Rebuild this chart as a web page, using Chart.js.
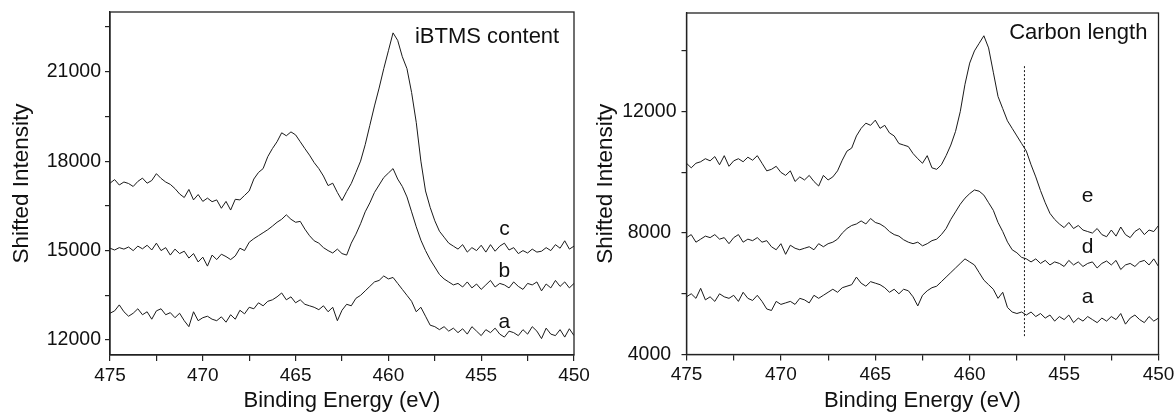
<!DOCTYPE html>
<html>
<head>
<meta charset="utf-8">
<script src="https://cdn.jsdelivr.net/npm/chart.js@4.4.1/dist/chart.umd.min.js"></script>
<style>
  html, body { margin: 0; padding: 0; background: #fff; }
  #wrap { position: relative; width: 1176px; height: 413px; overflow: hidden; }
  #leftChart { position: absolute; left: 0; top: 0; }
  #rightChart { position: absolute; left: 590px; top: 0; }
</style>
</head>
<body>
<div id="wrap">
  <canvas id="leftChart" width="590" height="413"></canvas>
  <canvas id="rightChart" width="586" height="413"></canvas>
</div>
<script>
// XPS spectra, two panels: iBTMS content (a, b, c) and carbon length (a, d, e)

const energy = [
  475, 474.75, 474.5, 474.25, 474, 473.75, 473.5, 473.25, 473, 472.75,
  472.5, 472.25, 472, 471.75, 471.5, 471.25, 471, 470.75, 470.5, 470.25,
  470, 469.75, 469.5, 469.25, 469, 468.75, 468.5, 468.25, 468, 467.75,
  467.5, 467.25, 467, 466.75, 466.5, 466.25, 466, 465.75, 465.5, 465.25,
  465, 464.75, 464.5, 464.25, 464, 463.75, 463.5, 463.25, 463, 462.75,
  462.5, 462.25, 462, 461.75, 461.5, 461.25, 461, 460.75, 460.5, 460.25,
  460, 459.75, 459.5, 459.25, 459, 458.75, 458.5, 458.25, 458, 457.75,
  457.5, 457.25, 457, 456.75, 456.5, 456.25, 456, 455.75, 455.5, 455.25,
  455, 454.75, 454.5, 454.25, 454, 453.75, 453.5, 453.25, 453, 452.75,
  452.5, 452.25, 452, 451.75, 451.5, 451.25, 451, 450.75, 450.5, 450.25,
  450
];

// tick positions (every tick gets a mark, only some get a label)
const xTicks = [475, 472.5, 470, 467.5, 465, 462.5, 460, 457.5, 455, 452.5, 450];
const xLabels = [475, 470, 465, 460, 455, 450];
const leftYTicks = [12000, 13500, 15000, 16500, 18000, 19500, 21000, 22500];
const leftYLabels = [12000, 15000, 18000, 21000];
const rightYTicks = [4000, 6000, 8000, 10000, 12000, 14000];
const rightYLabels = [4000, 8000, 12000];

// left panel
const iBTMS_c = [
  17260, 17380, 17200, 17300, 17250, 17150, 17320, 17430, 17260, 17350,
  17580, 17420, 17300, 17220, 17080, 16900, 16780, 17050, 16700, 16880,
  16650, 16760, 16640, 16700, 16420, 16650, 16360, 16720, 16700, 16850,
  17000, 17400, 17620, 17750, 18150, 18420, 18650, 18950, 18850, 18980,
  18880, 18650, 18420, 18200, 17950, 17750, 17500, 17180, 17260, 16950,
  16680, 16980, 17250, 17620, 18000, 18550, 19200, 19850, 20450, 21100,
  21700, 22300, 22050, 21500, 21100, 20300, 19300, 18000, 17000, 16450,
  16000, 15650, 15450, 15250, 15150, 15050, 15200, 14950, 15100, 15000,
  15180, 14950, 15200, 14980, 15150, 15250, 15020, 15100, 14900, 15000,
  14920, 15050, 14950, 14980, 15100, 15000, 15200, 15080, 15330, 15050,
  15150
];
const iBTMS_b = [
  15080, 15020, 15100, 15050, 15120, 15000, 15150, 15060, 15180, 15020,
  15250, 15000, 15100, 14850, 15050, 14900, 14980, 14750, 14900, 14620,
  14780, 14480, 14850, 14700, 14880, 14800, 14700, 14820, 15080, 15000,
  15280, 15400, 15500, 15600, 15700, 15820, 15950, 16050, 16200, 16050,
  15950, 15980, 15720, 15500, 15330, 15250, 15100, 15000, 14920, 15050,
  14900, 14850, 15250, 15550, 15900, 16300, 16600, 16950, 17200, 17450,
  17600, 17750, 17400, 17150, 16800, 16300, 15800, 15350, 15000, 14700,
  14450, 14200, 14050, 13950, 13850, 13900, 13780, 13950, 13750, 13880,
  13700, 13850, 14000, 13780, 13900, 13850, 13750, 13950, 13800, 13700,
  13900, 13850, 13950, 13650, 13880, 13750, 14000, 13800, 13950, 13750,
  13900
];
const iBTMS_a = [
  12900, 12980, 13180, 12950, 12800, 12900, 13050, 12850, 12950, 12700,
  12980, 13050, 12850, 12920, 12750, 12900, 12650, 12450, 12950, 12650,
  12750, 12800, 12700, 12650, 12780, 12600, 12850, 12700, 13000, 12880,
  13100, 13050, 13250, 13150, 13300, 13350, 13450, 13580, 13350, 13450,
  13250, 13350, 13200, 13150, 13100, 13020, 13150, 12950, 13100, 12650,
  13000, 13200, 13150, 13400, 13500, 13650, 13800, 13950, 14000, 14150,
  14050, 14100, 13900, 13700, 13500, 13300, 12950, 13100, 12800, 12500,
  12450, 12350, 12450, 12300, 12400, 12250, 12380, 12200, 12450, 12300,
  12150, 12350, 12250, 12400, 12200, 12100, 12300, 12250, 12150, 12350,
  12200, 12450, 12300, 12050, 12400, 12200, 12150, 12350, 12100, 12380,
  12150
];

// right panel
const carbon_e = [
  10300, 10150, 10300, 10350, 10450, 10380, 10520, 10250, 10550, 10200,
  10380, 10450, 10350, 10500, 10400, 10550, 10300, 10050, 10100, 10200,
  10000, 9900, 10050, 9700, 9850, 9750, 9900, 9700, 9550, 9900,
  9750, 9850, 10050, 10400, 10700, 10800, 11200, 11450, 11620, 11550,
  11720, 11450, 11550, 11300, 11200, 10950, 10900, 10850, 10620, 10450,
  10300, 10550, 10150, 10100, 10250, 10550, 10900, 11350, 12000, 12900,
  13600, 14000, 14250, 14500, 14100, 13300, 12500, 12100, 11700, 11450,
  11200, 10950, 10700, 10250, 9850, 9400, 9000, 8650, 8450, 8300,
  8180, 8350, 8150, 8250, 8100, 8050, 8000, 8150, 7950, 7880,
  8100, 7900, 8200, 7950, 7850, 8050, 8150, 7950, 8100, 8050,
  8250
];
const carbon_d = [
  7850, 7950, 7700, 7800, 7900, 7850, 7950, 7800, 7850, 7650,
  7850, 7950, 7700, 7800, 7750, 7850, 7700, 7750, 7550, 7450,
  7650, 7300, 7600, 7500, 7450, 7500, 7550, 7450, 7650, 7550,
  7650, 7700, 7800, 8000, 8150, 8250, 8300, 8400, 8300, 8480,
  8350, 8300, 8200, 8050, 7950, 7900, 7780, 7700, 7650, 7700,
  7580, 7650, 7750, 7800, 7950, 8150, 8450, 8700, 8950, 9150,
  9300, 9420, 9380, 9250, 9000, 8750, 8350, 8050, 7700, 7450,
  7350, 7200, 7150, 7050, 7150, 7000, 7100, 6950, 7050, 7000,
  6900, 7100, 6950, 7050, 6900, 7000, 7050, 6850, 7000, 7080,
  6950, 7100, 6800, 6950, 7000, 6900, 7050, 7100, 6950, 7150,
  6900
];
const carbon_a = [
  5900, 6000, 5850, 6180, 5800, 5900, 5750, 6000, 5900, 5850,
  5950, 5750, 6050, 5850, 5780, 5950, 5750, 5500, 5450, 5750,
  5650, 5700, 5750, 5650, 5850, 5800, 5700, 5950, 5850, 5950,
  6050, 6150, 6050, 6200, 6250, 6300, 6550, 6350, 6250, 6400,
  6350, 6300, 6200, 6050, 6150, 6000, 6150, 6100, 5900, 5600,
  5950, 6100, 6200, 6250, 6400, 6550, 6700, 6850, 7000, 7150,
  7050, 6950, 6700, 6450, 6300, 6150, 5850, 6050, 5550, 5400,
  5350, 5400, 5300, 5400, 5250, 5350, 5200, 5300, 5100, 5250,
  5150, 5300, 5050, 5200, 5100, 5250, 5150, 5050, 5200, 5100,
  5250, 5150, 5350, 5000, 5200, 5300, 5150, 5050, 5250, 5100,
  5200
];

// dotted reference line in the right panel
const markerEnergy = [457.1, 457.1];
const markerLevel = [13500, 4600];

const FONT = "'Liberation Sans', Arial, sans-serif";
const INK = '#1a1a1a';

Chart.defaults.font.family = FONT;
Chart.defaults.color = '#111';

function toPoints(xs, ys) {
  return ys.map((y, i) => ({ x: xs[i], y: y }));
}

function spectrum(values) {
  return {
    data: toPoints(energy, values),
    borderColor: INK,
    borderWidth: 1,
    pointRadius: 0,
    tension: 0,
    fill: false
  };
}

// frame around the plot area + curve labels placed through the scales
const panelDecor = {
  id: 'panelDecor',
  afterDatasetsDraw(chart, args, opts) {
    const { ctx, chartArea: a, scales } = chart;
    ctx.save();
    ctx.strokeStyle = '#222';
    ctx.lineWidth = 1.3;
    ctx.strokeRect(a.left, a.top, a.right - a.left, a.bottom - a.top);
    (opts.labels || []).forEach(l => {
      ctx.font = l.size + 'px ' + FONT;
      ctx.fillStyle = '#111';
      ctx.textAlign = l.align || 'center';
      ctx.textBaseline = 'alphabetic';
      ctx.fillText(l.text, scales.x.getPixelForValue(l.x), scales.y.getPixelForValue(l.y));
    });
    ctx.restore();
  }
};

// keep the plot box exactly where the reference has it
function noEdgePadding(s) {
  s.paddingTop = 0;
  s.paddingBottom = 0;
  s.paddingLeft = 0;
  s.paddingRight = 0;
}

function makePanel(id, cfg) {
  return new Chart(document.getElementById(id), {
    type: 'line',
    data: { datasets: cfg.datasets },
    plugins: [panelDecor],
    options: {
      responsive: false,
      animation: false,
      devicePixelRatio: 1,
      layout: { padding: cfg.padding },
      plugins: {
        legend: { display: false },
        tooltip: { enabled: false },
        panelDecor: { labels: cfg.labels }
      },
      scales: {
        x: {
          type: 'linear',
          reverse: true,
          min: 450,
          max: 475,
          afterFit: s => { s.height = cfg.xAxisHeight; noEdgePadding(s); },
          afterBuildTicks: s => { s.ticks = xTicks.map(v => ({ value: v })); },
          border: { display: true, color: '#222', width: 1.3 },
          grid: { drawOnChartArea: false, drawTicks: true, tickLength: 6, color: '#222', lineWidth: 1.2 },
          ticks: {
            autoSkip: false,
            maxRotation: 0,
            padding: 3,
            font: { size: 19 },
            color: '#111',
            callback: v => (xLabels.includes(v) ? String(v) : '')
          },
          title: {
            display: true,
            text: 'Binding Energy (eV)',
            font: { size: 22, lineHeight: 1 },
            color: '#111',
            padding: { top: 0, bottom: 1 }
          }
        },
        y: {
          type: 'linear',
          min: cfg.yMin,
          max: cfg.yMax,
          afterFit: s => { s.width = cfg.yAxisWidth; noEdgePadding(s); },
          afterBuildTicks: s => { s.ticks = cfg.yTicks.map(v => ({ value: v })); },
          border: { display: true, color: '#222', width: 1.3 },
          grid: { drawOnChartArea: false, drawTicks: true, tickLength: 5, color: '#222', lineWidth: 1.2 },
          ticks: {
            autoSkip: false,
            padding: cfg.yTickPad,
            crossAlign: cfg.crossAlign,
            font: { size: 19.5 },
            color: '#111',
            callback: v => (cfg.yLabels.includes(v) ? String(v) : '')
          },
          title: {
            display: true,
            text: 'Shifted Intensity',
            font: { size: 22.5 },
            color: '#111',
            padding: { top: cfg.yTitlePad, bottom: 0 }
          }
        }
      }
    }
  });
}

makePanel('leftChart', {
  datasets: [spectrum(iBTMS_c), spectrum(iBTMS_b), spectrum(iBTMS_a)],
  padding: { top: 12, right: 16, left: 0, bottom: 0 },
  xAxisHeight: 58,
  yAxisWidth: 110,
  yMin: 11500,
  yMax: 23000,
  yTicks: leftYTicks,
  yLabels: leftYLabels,
  yTickPad: 4,
  crossAlign: 'near',
  yTitlePad: 8.5,
  labels: [
    { text: 'iBTMS content', x: 458.57, y: 21965, size: 22, align: 'left' },
    { text: 'c', x: 453.75, y: 15535, size: 21 },
    { text: 'b', x: 453.75, y: 14120, size: 21 },
    { text: 'a', x: 453.75, y: 12415, size: 21 }
  ]
});

const markerLine = {
  data: toPoints(markerEnergy, markerLevel),
  borderColor: INK,
  borderWidth: 1,
  borderDash: [2, 2],
  pointRadius: 0,
  fill: false
};

makePanel('rightChart', {
  datasets: [spectrum(carbon_e), spectrum(carbon_d), spectrum(carbon_a), markerLine],
  padding: { top: 13, right: 17.5, left: 0, bottom: 0 },
  xAxisHeight: 58.5,
  yAxisWidth: 96.5,
  yMin: 4000,
  yMax: 15250,
  yTicks: rightYTicks,
  yLabels: rightYLabels,
  yTickPad: 5,
  crossAlign: 'center',
  yTitlePad: 2.5,
  labels: [
    { text: 'Carbon length', x: 457.91, y: 14386, size: 22, align: 'left' },
    { text: 'e', x: 453.75, y: 9011, size: 21 },
    { text: 'd', x: 453.75, y: 7350, size: 21 },
    { text: 'a', x: 453.75, y: 5701, size: 21 }
  ]
});
</script>
</body>
</html>
